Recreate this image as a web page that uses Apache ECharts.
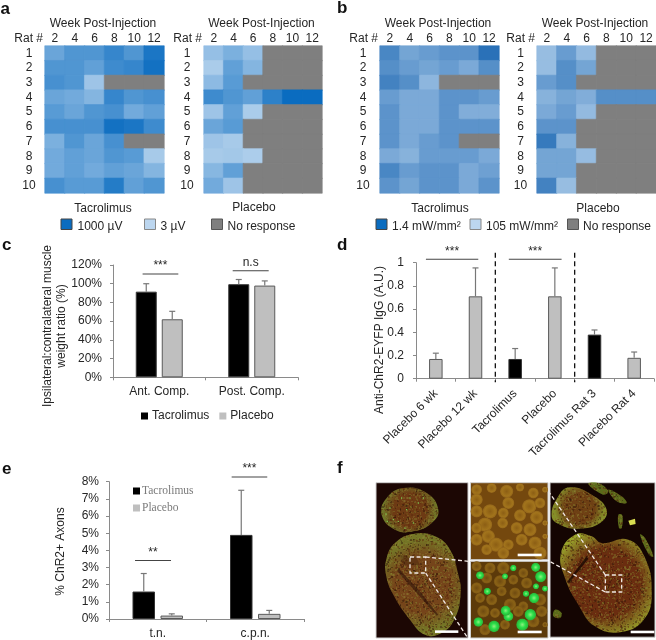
<!DOCTYPE html>
<html><head><meta charset="utf-8">
<style>html,body{margin:0;padding:0;background:#fff}#c{width:656px;height:640px}</style>
<script src="https://cdn.jsdelivr.net/npm/echarts@6/dist/echarts.min.js"></script>
</head><body><div id="c"></div>
<script>
// ---------- DATA ----------
const weeks = ['2','4','6','8','10','12'];
const rats = ['1','2','3','4','5','6','7','8','9','10'];
const n = null;
// normalised response level (0 = lowest stimulus, 1 = highest), null = no response
const aTacrolimus = [
 [.45,.6,.6,.75,.6,.9],[.6,.6,.5,.7,.75,.95],[.65,.6,.15,n,n,n],[.45,.4,.3,.75,.6,.65],[.55,.45,.6,.65,.4,.5],
 [.65,.65,.65,.95,.9,.7],[.35,.6,.45,.65,n,n],[.4,.5,.45,.6,.55,.1],[.4,.5,.4,.5,.45,.3],[.65,.55,.55,.85,.5,.6]];
const aPlacebo = [
 [.2,.35,.2,n,n,n],[.08,.5,.3,n,n,n],[.25,.55,n,n,n,n],[.7,.6,.5,.8,1,1],[.15,.5,.08,n,n,n],
 [.45,.55,n,n,n,n],[.15,.1,n,n,n,n],[.1,.12,.07,n,n,n],[.28,.5,n,n,n,n],[.4,.15,n,n,n,n]];
const bTacrolimus = [
 [.75,.4,.5,.6,.6,1],[.65,.5,.4,.5,.35,.65],[.8,.65,.2,n,n,n],[.5,.35,.35,.6,.6,.5],[.6,.35,.35,.6,.3,.3],
 [.6,.35,.35,.6,.6,.6],[.6,.35,.5,.6,n,n],[.35,.25,.5,.5,.5,.35],[.75,.5,.6,.6,.35,.45],[.6,.4,.6,.6,.35,.6]];
const bPlacebo = [
 [.12,.5,.15,n,n,n],[.12,.65,.4,n,n,n],[.5,.65,n,n,n,n],[.25,.4,.3,.65,.65,.65],[.35,.5,.15,n,n,n],
 [.6,.6,n,n,n,n],[.9,.25,n,n,n,n],[.4,.4,.13,n,n,n],[.4,.4,n,n,n,n],[.8,.12,n,n,n,n]];

const cCats = ['Ant. Comp.','Post. Comp.'];
const cTacrolimus = [91.5,99.5], cTacrolimusTop = [100,104.5];
const cPlacebo = [62,98], cPlaceboTop = [70.5,103];
const cSig = [[-.18,.206,110.4,'***'],[.794,1.183,113.9,'n.s']];

const dCats = ['Placebo 6 wk','Placebo 12 wk','Tacrolimus','Placebo','Tacrolimus Rat 3','Placebo Rat 4'];
const dValues = [.17,.71,.17,.71,.38,.18];
const dTops = [.22,.955,.26,.955,.42,.23];
const dSig = [[-.25,1.07,1.03,'***'],[1.84,3.17,1.03,'***']];
const dSeparators = [1.5,3.5];

const eCats = ['t.n.','c.p.n.'];
const eTacrolimus = [1.6,4.9], eTacrolimusTop = [2.65,7.5];
const ePlacebo = [.2,.3], ePlaceboTop = [.3,.5];
const eSig = [[-.233,.136,3.41,'**'],[.758,1.123,8.27,'***']];

// ---------- HELPERS ----------
const FONT = '"Liberation Sans", Arial, sans-serif';
const INK = '#262626', AXIS = '#8a8a8a', GREY = '#bfbfbf', EDGE = '#5a5a5a';
const mix = (c0,c1,t)=>'rgb('+c0.map((v,i)=>Math.round(v+(c1[i]-v)*t)).join(',')+')';
const rampA = t=>mix([184,212,238],[10,108,192],t);
const rampB = t=>mix([166,199,231],[42,113,184],t);

const grids=[], xAxes=[], yAxes=[], series=[], g=[];
function text(s,x,y,o={}){g.push({type:'text',z:10,x:x,y:y,rotation:o.rot||0,style:Object.assign({text:s,fill:o.fill||INK,
  font:(o.weight||'')+' '+(o.size||12)+'px '+(o.family||FONT),align:o.align||'center',verticalAlign:'middle'},{})});}
function box(x,y,w,h,fill,stroke){g.push({type:'rect',z:10,shape:{x,y,width:w,height:h},style:{fill,stroke:stroke||null,lineWidth:stroke?1:0}});}

function heat(left,width,rows,ramp,rowX){
  const i=grids.length;
  grids.push({left,top:46,width,height:147});
  xAxes.push({gridIndex:i,type:'category',position:'top',data:weeks,axisLine:{show:false},axisTick:{show:false},
    axisLabel:{color:INK,fontFamily:FONT,fontSize:12,margin:1,interval:0}});
  yAxes.push({gridIndex:i,type:'category',inverse:true,data:rats,axisLine:{show:false},axisTick:{show:false},
    axisLabel:{color:INK,fontFamily:FONT,fontSize:12,align:'center',margin:left-rowX,interval:0}});
  const data=[];
  rows.forEach((r,y)=>r.forEach((v,x)=>{const col=v===null?'#7f7f7f':ramp(v);
    data.push({value:[x,y,v===null?-1:v],itemStyle:{color:col,borderColor:col,borderWidth:.6}});}));
  series.push({type:'heatmap',xAxisIndex:i,yAxisIndex:i,data,silent:true,emphasis:{disabled:true}});
  text('Rat #',left-2,39,{align:'right'});
  text('Week Post-Injection',left+width/2-1.5,24);
}
function barGrid(rect,cats,yOpt,rotate){
  const i=grids.length;
  grids.push(rect);
  xAxes.push({gridIndex:i,type:'category',data:cats,axisLine:{lineStyle:{color:AXIS}},axisTick:{show:true,lineStyle:{color:AXIS},length:3},
    axisLabel:{color:INK,fontFamily:FONT,fontSize:12,margin:rotate?13:8,rotate:rotate||0,interval:0}});
  yAxes.push(Object.assign({gridIndex:i,type:'value',splitLine:{show:false},axisLine:{show:true,lineStyle:{color:AXIS}},axisTick:{show:true,lineStyle:{color:AXIS},length:3}},yOpt));
  return i;
}
function bars(i,name,vals,fill,stroke,w,gap){
  series.push({type:'bar',name,xAxisIndex:i,yAxisIndex:i,data:vals,barWidth:w,barGap:(gap/w*100)+'%',silent:true,
    itemStyle:{color:fill,borderColor:stroke,borderWidth:1}});
}
function errors(i,vals,tops,offset){
  series.push({type:'custom',xAxisIndex:i,yAxisIndex:i,silent:true,z:3,clip:false,
    data:vals.map((v,k)=>[k,v,tops[k]]),encode:{x:0,y:2},
    renderItem(p,api){
      const a=api.coord([api.value(0),api.value(1)]),b=api.coord([api.value(0),api.value(2)]);
      const x=a[0]+offset,st={stroke:'#777',lineWidth:1.2};
      return {type:'group',children:[
        {type:'line',shape:{x1:x,y1:a[1],x2:x,y2:b[1]},style:st},
        {type:'line',shape:{x1:x-3,y1:b[1],x2:x+3,y2:b[1]},style:st}]};
    }});
}
function sig(i,rows){
  series.push({type:'custom',xAxisIndex:i,yAxisIndex:i,silent:true,z:4,clip:false,
    data:rows.map(r=>[0,r[2]]),encode:{x:0,y:1},
    renderItem(p,api){
      const r=rows[p.dataIndex],c=api.coord([0,r[2]]),w=api.size([1,0])[0];
      const x1=c[0]+r[0]*w,x2=c[0]+r[1]*w;
      return {type:'group',children:[
        {type:'line',shape:{x1,y1:c[1],x2,y2:c[1]},style:{stroke:'#444',lineWidth:1.1}},
        {type:'text',x:(x1+x2)/2,y:c[1]-8,style:{text:r[3],fill:INK,font:'12px '+FONT,align:'center',verticalAlign:'middle'}}]};
    }});
}
function separators(i,cols,top,bottom){
  series.push({type:'custom',xAxisIndex:i,yAxisIndex:i,silent:true,z:4,clip:false,
    data:cols.map(()=>[0,0]),encode:{x:0,y:1},
    renderItem(p,api){
      const c=api.coord([0,0]),w=api.size([1,0])[0],x=c[0]+cols[p.dataIndex]*w;
      return {type:'line',shape:{x1:x,y1:api.coord([0,top])[1],x2:x,y2:api.coord([0,bottom])[1]},style:{stroke:'#111',lineWidth:1.3,lineDash:[5,3.5]}};
    }});
}
const yLabel=(margin,formatter)=>({color:INK,fontFamily:FONT,fontSize:12,margin,formatter});

// ---------- PANELS a, b ----------
heat(45,119,aTacrolimus,rampA,29);
heat(204,118,aPlacebo,rampA,187);
heat(380,119,bTacrolimus,rampB,363);
heat(537,119,bPlacebo,rampB,520.5);
[['a',0.5,9],['b',337,8.5],['c',2,245.5],['d',337,245],['e',2,469],['f',337,468]].forEach(l=>text(l[0],l[1],l[2],{size:17,weight:'bold',align:'left',fill:'#111'}));

text('Tacrolimus',103,209); text('Placebo',254,208);
box(61,219,11,10.5,'#0b6cbf','#444'); text('1000 µV',77.5,226.5,{align:'left'});
box(144.5,219,11,10.5,'#bcd6ef','#888'); text('3 µV',160.5,226.5,{align:'left'});
box(211.5,219,11,10.5,'#7f7f7f','#555'); text('No response',227.5,226.5,{align:'left'});
text('Tacrolimus',440,208.5); text('Placebo',598,208.5);
box(376,219,11,10.5,'#0b6cbf','#444'); text('1.4 mW/mm²',392,226.5,{align:'left'});
box(470,219,11,10.5,'#bcd6ef','#888'); text('105 mW/mm²',486,226.5,{align:'left'});
box(567.5,219,11,10.5,'#7f7f7f','#555'); text('No response',583,226.5,{align:'left'});

// ---------- PANEL c ----------
const ci=barGrid({left:113,top:265,width:185,height:112.3},cCats,{min:0,max:120,interval:20,axisLabel:yLabel(11,'{value}%')});
bars(ci,'Tacrolimus',cTacrolimus,'#000','#3a3a3a',21,5);
bars(ci,'Placebo',cPlacebo,GREY,EDGE,21,5);
errors(ci,cTacrolimus,cTacrolimusTop,-13); errors(ci,cPlacebo,cPlaceboTop,13); sig(ci,cSig);
text('Ipsilateral:contralateral muscle',48,326,{rot:Math.PI/2});
text('weight ratio (%)',62,326,{rot:Math.PI/2});

// ---------- PANEL d ----------
const di=barGrid({left:416,top:262.7,width:238,height:116},dCats,{min:0,max:1,interval:.2,axisLabel:yLabel(12)},45);
series.push({type:'bar',name:'IgG',xAxisIndex:di,yAxisIndex:di,barWidth:13.5,silent:true,
  data:dValues.map((v,k)=>{const black=dCats[k].indexOf('Tacrolimus')===0;return {value:v,itemStyle:{color:black?'#000':GREY,borderColor:black?'#333':EDGE,borderWidth:1}};})});
errors(di,dValues,dTops,0); sig(di,dSig); separators(di,dSeparators,1.085,-.03);
text('Anti-ChR2-EYFP IgG (A.U.)',380,340,{rot:Math.PI/2});

// ---------- PANEL e ----------
const ei=barGrid({left:109,top:481.7,width:195,height:137.6},eCats,{min:0,max:8,interval:1,axisLabel:yLabel(10,'{value}%')});
xAxes[ei].axisLabel.margin=9;
bars(ei,'Tacrolimus',eTacrolimus,'#000','#333',22.5,5.5);
bars(ei,'Placebo',ePlacebo,GREY,EDGE,22.5,5.5);
errors(ei,eTacrolimus,eTacrolimusTop,-14); errors(ei,ePlacebo,ePlaceboTop,14); sig(ei,eSig);
text('% ChR2+ Axons',61,551.5,{rot:Math.PI/2});

const legends=[
 {left:136,top:405,itemWidth:7,itemHeight:7,itemGap:10,icon:'rect',selectedMode:false,data:['Tacrolimus','Placebo'],
  itemStyle:{borderWidth:0},textStyle:{color:INK,fontFamily:FONT,fontSize:12,padding:[0,0,0,-1]}},
 {left:128,top:480,orient:'vertical',itemWidth:7,itemHeight:7,itemGap:5,icon:'rect',selectedMode:false,data:['Tacrolimus','Placebo'],
  itemStyle:{borderWidth:0},textStyle:{color:'#7a7a7a',fontFamily:'"Liberation Serif",serif',fontSize:11.5,padding:[0,0,0,-3]}}];

// ---------- PANEL f (photomicrographs, illustrative) ----------
function tile(cols){ // deterministic speckle texture
  const cv=document.createElement('canvas');cv.width=cv.height=96;const x=cv.getContext('2d');let s=12345;
  const r=()=>{s=(s*1103515245+12345)&0x7fffffff;return s/0x7fffffff;};
  for(let i=0;i<2600;i++){x.fillStyle=cols[Math.floor(r()*cols.length)];x.fillRect(Math.floor(r()*96),Math.floor(r()*96),1+Math.floor(r()*2),1+Math.floor(r()*2));}
  return cv;
}
const speck=tile(['rgba(130,130,45,.4)','rgba(90,40,10,.45)','rgba(150,140,55,.3)','rgba(40,15,5,.4)','rgba(120,85,25,.4)']);
const F=g;
const rect=(x,y,w,h,fill)=>F.push({type:'rect',z:1,shape:{x,y,width:w,height:h},style:{fill,stroke:'#d0d0d0',lineWidth:1}});
const rad=(stops)=>({type:'radial',x:.5,y:.5,r:.6,colorStops:stops});
function nerve(points,inner,outer,map){
  const pts=points.map(map);
  const smooth=.45;
  F.push({type:'polygon',z:2,shape:{points:pts,smooth},style:{fill:rad([{offset:0,color:inner},{offset:.62,color:inner},{offset:1,color:outer}])}});
  F.push({type:'polygon',z:3,shape:{points:pts,smooth},style:{fill:{image:speck,repeat:'repeat'}}});
}
const mapL=p=>[370+p[0]/3,478+p[1]/3], mapR=p=>[545+p[0]/3,478+p[1]/3];
rect(376,482.7,92,155.3,'#1c0704');
rect(550,482.7,105,154.5,'#140502');
nerve([[35,110],[50,60],[100,30],[170,45],[205,95],[185,135],[130,160],[75,155]],'#6d3a14','#6f7828',mapL);
nerve([[50,240],[75,195],[130,168],[195,175],[240,215],[265,290],[272,345],[255,420],[215,465],[165,470],[120,425],[70,350],[48,290]],'#75441a','#747626',mapL);
nerve([[20,115],[40,55],[75,28],[140,50],[185,95],[165,135],[100,152],[45,140]],'#6e4014','#848e28',mapR);
nerve([[48,225],[90,170],[140,175],[170,195],[250,185],[300,240],[320,340],[300,420],[230,462],[150,445],[100,380],[60,300]],'#6a2d10','#98a22a',mapR);
const poly=(pts,fill,map,z,smooth)=>F.push({type:'polygon',z:z||4,shape:{points:pts.map(map),smooth:smooth||0},style:{fill}});
// cracks
poly([[125,235],[66,312],[72,315],[130,242]],'rgba(25,8,3,.8)',mapR);
poly([[85,270],[150,340],[205,410],[200,413],[143,348],[82,280]],'rgba(35,10,5,.5)',mapL);
poly([[90,230],[100,262],[150,262],[140,240]],'rgba(35,10,5,.25)',mapL);
// debris on the right section
[[[130,18],[160,15],[190,40],[175,50]],[[190,35],[230,55],[245,75],[215,70]],[[220,110],[232,112],[230,150],[222,150]],
 [[285,170],[300,180],[325,235],[312,230]],[[30,395],[50,405],[45,420],[25,415]]].forEach(p=>{
  poly(p,'rgba(115,140,35,.75)',mapR,4,.4); poly(p,{image:speck,repeat:'repeat'},mapR,5,.4);});
poly([[250,128],[270,122],[272,138],[255,142]],'#d8dd50',mapR);
// green puncta, left upper fascicle (crop coordinates)
const leftGreen=[[48,108],[70,125],[95,60],[110,95],[60,90],[130,135],[105,150],[145,75],[85,130],[160,60],[52,130],[120,60]];
leftGreen.forEach(p=>{const c=mapL(p);F.push({type:'circle',z:5,shape:{cx:c[0],cy:c[1],r:.7},style:{fill:'#7fd85a'}});});

// magnified axons
const midClipTop={x:470.5,y:482.7,w:77.5,h:77}, midClipBot={x:470.5,y:561.3,w:77.5,h:76.7};
rect(midClipTop.x,midClipTop.y,midClipTop.w,midClipTop.h,'#74480e');
rect(midClipBot.x,midClipBot.y,midClipBot.w,midClipBot.h,'#5c3a0a');
const axonsTop=[[320,35],[365,30],[410,40],[450,28],[490,45],[525,35],[320,65],[360,100],[400,105],[450,112],[500,118],[478,85],[510,75],[415,75],[320,100],[345,140],[398,135],[440,150],[480,155],[525,135],[320,150],[320,185],[355,175],[378,200],[415,200],[455,185],[495,195],[525,175],[350,215],[400,225],[510,225]];
const axonsBot=[[320,265],[360,270],[400,270],[460,285],[350,300],[390,310],[430,305],[470,315],[320,330],[395,340],[435,345],[510,365],[330,360],[365,365],[420,380],[460,385],[515,400],[340,400],[375,405],[445,400],[525,440],[405,440],[345,455],[490,430]];
const axonsGreen=[[330,292,4],[512,296,5.6],[497,268,4.6],[492,360,5.2],[481,410,5.8],[457,440,6.2],[415,415,5],[407,398,5],[372,445,5.8],[325,432,4.8],[352,340,3.6],[468,347,3.2],[525,332,3],[405,295,3],[430,270,3.2],[498,325,3]];
const inMid=(c,r,b)=>c[0]-r>=b.x&&c[0]+r<=b.x+b.w&&c[1]-r>=b.y&&c[1]+r<=b.y+b.h;
function axon(p,r,colors,box){
  const c=mapL(p); let R=r;
  while(!inMid(c,R,box)&&R>1) R-=.5;
  F.push({type:'circle',z:4,shape:{cx:c[0],cy:c[1],r:R},style:{fill:rad(colors)}});
}
const ringCols=[{offset:0,color:'#8c5e14'},{offset:.6,color:'#a2741c'},{offset:.8,color:'#94661a'},{offset:1,color:'rgba(116,72,14,0)'}];
const ringDark=[{offset:0,color:'#6f4a10'},{offset:.6,color:'#8a6216'},{offset:.8,color:'#7c5614'},{offset:1,color:'rgba(92,58,10,0)'}];
const greenCols=[{offset:0,color:'#8fef80'},{offset:.4,color:'#2ce04a'},{offset:.75,color:'#29b83a'},{offset:1,color:'rgba(60,110,20,0)'}];
axonsTop.forEach((p,i)=>axon(p,5.4+(i%4)*.6,ringCols,midClipTop));
axonsBot.forEach((p,i)=>axon(p,5+(i%3)*.6,ringDark,midClipBot));
axonsGreen.forEach(p=>axon(p,p[2],greenCols,midClipBot));

// white scale bars, dashed call-outs
[[195,457,70,mapL],[443,227,72,mapL],[443,458,72,mapL],[257,458,71,mapR]].forEach(b=>{const c=b[3]([b[0],b[1]]);
  F.push({type:'rect',z:8,shape:{x:c[0],y:c[1],width:b[2]/3,height:2.6},style:{fill:'#fff'}});});
const dash=(a,b,map)=>{const p=map(a),q=map(b);F.push({type:'line',z:8,shape:{x1:p[0],y1:p[1],x2:q[0],y2:q[1]},style:{stroke:'#f0e8e4',lineWidth:1.3,lineDash:[4,2.5]}});};
const rectDash=(x,y,w,h,map)=>{const p=map([x,y]);F.push({type:'rect',z:8,shape:{x:p[0],y:p[1],width:w/3,height:h/3},style:{fill:'none',stroke:'#f0e8e4',lineWidth:1.3,lineDash:[4,2.5]}});};
rectDash(120,237,47,48,mapL);
dash([167,237],[297,250],mapL); dash([167,285],[292,478],mapL);
rectDash(181,291,49,51,mapR);
dash([181,291],[14,45],mapR); dash([181,342],[14,250],mapR);

const chart=echarts.init(document.getElementById('c'),null,{renderer:'canvas'});
chart.setOption({backgroundColor:'#fff',animation:false,tooltip:{show:false},
  grid:grids,xAxis:xAxes,yAxis:yAxes,series,legend:legends,graphic:{elements:g}});
</script></body></html>
